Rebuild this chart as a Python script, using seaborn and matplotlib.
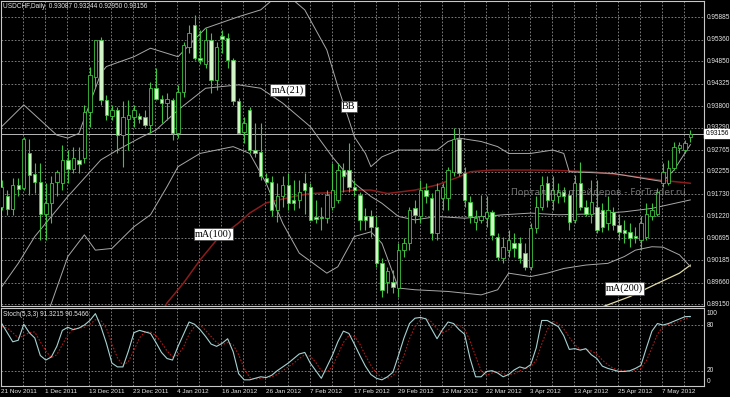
import matplotlib
matplotlib.use("Agg")
import matplotlib.pyplot as plt
import matplotlib.transforms as mtransforms
import seaborn as sns
import numpy as np

# ---------------- data ----------------
opens = [0.9144,0.9168,0.9138,0.9195,0.9187,0.9269,0.9221,0.9203,0.9128,0.9152,
         0.9201,0.9199,0.9254,0.9232,0.9254,0.9258,0.9367,0.9449,0.9535,0.9394,
         0.9357,0.9371,0.9312,0.9351,0.9355,0.9357,0.9354,0.9336,0.9422,0.9396,
         0.9388,0.9394,0.9316,0.9414,0.9520,0.9570,0.9492,0.9480,0.9535,0.9441,
         0.9545,0.9539,0.9488,0.9391,0.9320,0.9371,0.9277,0.9273,0.9211,0.9203,
         0.9136,0.9168,0.9195,0.9160,0.9160,0.9199,0.9191,0.9119,0.9119,0.9117,
         0.9144,0.9160,0.9230,0.9230,0.9191,0.9171,0.9121,0.9121,0.9097,0.9011,
         0.8968,0.8968,0.8952,0.9042,0.9058,0.9140,0.9121,0.9183,0.9164,0.9082,
         0.9164,0.9164,0.9226,0.9304,0.9222,0.9156,0.9109,0.9113,0.9117,0.9132,
         0.9074,0.9023,0.9042,0.9058,0.9058,0.9035,0.9003,0.9093,0.9144,0.9199,
         0.9160,0.9168,0.9179,0.9171,0.9113,0.9199,0.9144,0.9128,0.9144,0.9136,
         0.9105,0.9132,0.9101,0.9089,0.9085,0.9075,0.9066,0.9074,0.9121,0.9128,
         0.9199,0.9199,0.9234,0.9281,0.9277,0.93087]
highs = [0.9207,0.9183,0.9211,0.9211,0.9308,0.9304,0.9246,0.9246,0.9199,0.9215,
         0.9230,0.9289,0.9277,0.9285,0.9285,0.9383,0.9473,0.9535,0.9543,0.9406,
         0.9383,0.9379,0.9391,0.9394,0.9383,0.9363,0.9371,0.9437,0.9469,0.9406,
         0.9410,0.9398,0.9430,0.9531,0.9570,0.9594,0.9559,0.9563,0.9551,0.9531,
         0.9559,0.9551,0.9492,0.9398,0.9355,0.9379,0.9340,0.9340,0.9222,0.9215,
         0.9199,0.9215,0.9222,0.9207,0.9207,0.9222,0.9199,0.9160,0.9144,0.9183,
         0.9246,0.9246,0.9246,0.9293,0.9207,0.9179,0.9140,0.9136,0.9121,0.9023,
         0.9003,0.8995,0.9058,0.9070,0.9144,0.9160,0.9207,0.9199,0.9175,0.9199,
         0.9199,0.9238,0.9328,0.9328,0.9238,0.9168,0.9136,0.9171,0.9168,0.9136,
         0.9082,0.9074,0.9089,0.9082,0.9074,0.9058,0.9105,0.9168,0.9215,0.9215,
         0.9215,0.9199,0.9191,0.9183,0.9218,0.9250,0.9160,0.9207,0.9207,0.9152,
         0.9168,0.9144,0.9128,0.9113,0.9105,0.9097,0.9121,0.9152,0.9152,0.9187,
         0.9246,0.9254,0.9297,0.9297,0.9301,0.93244]
lows = [0.9136,0.9125,0.9125,0.9168,0.9183,0.9171,0.9175,0.9066,0.9066,0.9105,
        0.9168,0.9183,0.9199,0.9222,0.9222,0.9246,0.9332,0.9426,0.9383,0.9348,
        0.9348,0.9269,0.9238,0.9277,0.9332,0.9340,0.9332,0.9316,0.9394,0.9340,
        0.9348,0.9301,0.9305,0.9402,0.9504,0.9488,0.9480,0.9469,0.9410,0.9418,
        0.9504,0.9469,0.9383,0.9316,0.9293,0.9269,0.9261,0.9207,0.9199,0.9121,
        0.9109,0.9144,0.9136,0.9136,0.9140,0.9128,0.9113,0.9105,0.9089,0.9105,
        0.9136,0.9152,0.9179,0.9179,0.9168,0.9089,0.9089,0.9074,0.9003,0.8933,
        0.8941,0.8941,0.8933,0.9027,0.9042,0.9105,0.9105,0.9152,0.9066,0.9066,
        0.9136,0.9136,0.9215,0.9215,0.9144,0.9105,0.9089,0.9105,0.9097,0.9066,
        0.9019,0.9011,0.9027,0.9027,0.9011,0.8995,0.8995,0.9082,0.9136,0.9144,
        0.9136,0.9152,0.9156,0.9089,0.9105,0.9136,0.9121,0.9105,0.9082,0.9085,
        0.9089,0.9089,0.9066,0.9058,0.9050,0.9058,0.9042,0.9066,0.9113,0.9121,
        0.9191,0.9195,0.9230,0.9269,0.9269,0.92950]
closes = [0.9191,0.9138,0.9195,0.9186,0.9304,0.9218,0.9203,0.9128,0.9152,0.9199,
          0.9226,0.9254,0.9232,0.9258,0.9244,0.9367,0.9453,0.9535,0.9394,0.9359,
          0.9371,0.9312,0.9355,0.9359,0.9371,0.9351,0.9336,0.9422,0.9396,0.9388,
          0.9396,0.9316,0.9414,0.9524,0.9551,0.9492,0.9488,0.9535,0.9441,0.9520,
          0.9537,0.9488,0.9391,0.9316,0.9340,0.9277,0.9269,0.9215,0.9203,0.9136,
          0.9168,0.9195,0.9152,0.9152,0.9179,0.9183,0.9113,0.9114,0.9117,0.9171,
          0.9183,0.9230,0.9215,0.9191,0.9183,0.9113,0.9113,0.9097,0.9011,0.8949,
          0.8992,0.8956,0.9042,0.9058,0.9136,0.9125,0.9183,0.9168,0.9082,0.9183,
          0.9191,0.9230,0.9304,0.9222,0.9160,0.9121,0.9117,0.9121,0.9132,0.9078,
          0.9027,0.9050,0.9066,0.9046,0.9023,0.9003,0.9093,0.9144,0.9195,0.9160,
          0.9183,0.9179,0.9168,0.9109,0.9199,0.9144,0.9128,0.9156,0.9089,0.9097,
          0.9136,0.9101,0.9085,0.9082,0.9070,0.9070,0.9105,0.9128,0.9136,0.9179,
          0.9226,0.9234,0.9285,0.9289,0.9293,0.93156]

# Bollinger bands (20) and moving averages, read as (bar, price)
bb_up_x = [0, 4, 10, 12, 14, 18, 19, 24, 27, 30, 32, 37, 43, 47, 51, 55, 59, 61, 63, 64,
           66, 67, 69, 72, 79, 81, 83, 87, 90, 92, 96, 100, 102, 103, 111, 118, 120, 122, 125]
bb_up_y = [0.9332, 0.9383, 0.9312, 0.9305, 0.9316, 0.9457, 0.9473, 0.9496, 0.9516, 0.9504,
           0.9496, 0.9563, 0.9590, 0.9606, 0.9650, 0.9606, 0.9512, 0.9426, 0.9348, 0.9308,
           0.9269, 0.9238, 0.9261, 0.9277, 0.9277, 0.9297, 0.9305, 0.9297, 0.9285, 0.9269,
           0.9269, 0.9277, 0.9269, 0.9226, 0.9222, 0.9207, 0.9203, 0.9230, 0.9290]
ma21_x = [0, 3, 6, 12, 15, 18, 21, 25, 28, 32, 37, 43, 47, 51, 56, 60, 64, 67, 69, 72,
          75, 79, 84, 91, 96, 101, 107, 113, 118, 125]
ma21_y = [0.8956, 0.9011, 0.9074, 0.9168, 0.9211, 0.9254, 0.9277, 0.9305, 0.9324, 0.9371,
          0.9422, 0.9430, 0.9422, 0.9387, 0.9332, 0.9261, 0.9199, 0.9168, 0.9152, 0.9121,
          0.9113, 0.9121, 0.9117, 0.9125, 0.9129, 0.9125, 0.9127, 0.9132, 0.9140, 0.9160]
bb_lo_x = [5, 9, 12, 15, 17, 20, 24, 27, 30, 32, 36, 42, 45, 48, 51, 54, 59, 61, 64, 67,
           69, 72, 75, 81, 87, 90, 92, 96, 99, 102, 106, 110, 113, 115, 118, 120, 123, 125]
bb_lo_y = [0.8800, 0.8917, 0.9027, 0.9078, 0.9042, 0.9046, 0.9097, 0.9125, 0.9191, 0.9238,
           0.9269, 0.9285, 0.9269, 0.9199, 0.9105, 0.9035, 0.8988, 0.9003, 0.9074, 0.9085,
           0.9058, 0.8953, 0.8949, 0.8945, 0.8937, 0.8949, 0.8988, 0.8980, 0.8988, 0.8999,
           0.9007, 0.9011, 0.9027, 0.9042, 0.9050, 0.9049, 0.9031, 0.9003]
ma100_x = [29, 30, 33, 36, 39, 43, 45, 48, 53, 56, 60, 64, 67, 70, 75, 79, 83, 85, 89, 96,
           101, 107, 113, 119, 125]
ma100_y = [0.8895, 0.8918, 0.8965, 0.9019, 0.9066, 0.9106, 0.9129, 0.9153, 0.9168, 0.9175,
           0.9177, 0.9183, 0.9183, 0.9175, 0.9183, 0.9195, 0.9214, 0.9226, 0.9230, 0.9230,
           0.9229, 0.9226, 0.9218, 0.9207, 0.9199]
ma200_x = [104, 108, 114, 119, 123, 125]
ma200_y = [0.8885, 0.8904, 0.8933, 0.8964, 0.8988, 0.9007]

stoch_main = [82,70,58,60,81,70,63,40,34,38,52,73,77,74,76,80,86,95,78,56,
              30,25,25,46,70,73,71,69,57,44,36,34,52,68,84,81,74,65,55,52,
              56,62,45,16,8,8,10,12,11,14,20,25,30,36,42,44,30,20,10,25,
              40,58,72,69,55,40,26,15,10,8,12,18,40,63,82,89,90,88,75,62,
              74,84,82,74,68,36,12,12,19,20,17,12,15,21,25,23,28,50,86,86,
              82,78,66,48,49,47,49,41,36,26,23,21,19,19,20,23,27,50,72,82,
              80,82,85,88,91,91.32]
stoch_signal = [78,76,70,63,66,70,71,58,46,37,41,54,67,75,76,77,81,87,86,76,
                55,37,27,32,47,63,71,71,66,57,46,38,41,51,68,78,80,73,65,57,
                54,57,54,41,23,11,9,10,11,12,15,20,25,30,36,41,39,31,20,18,
                25,41,57,66,65,55,40,27,17,11,10,13,23,40,62,78,87,89,84,75,
                70,73,80,80,75,59,39,20,14,17,19,16,15,16,20,23,25,34,55,74,
                85,82,75,64,54,48,48,46,42,34,28,23,21,20,19,21,23,33,50,68,
                78,81,82,85,88,90.55]

price_ticks = [0.95885, 0.95360, 0.94850, 0.94325, 0.93800, 0.93290, 0.92765,
               0.92255, 0.91730, 0.91220, 0.90695, 0.90185, 0.89660, 0.89150]
price_tick_labels = ["0.95885", "0.95360", "0.94850", "0.94325", "0.93800", "0.93290", "0.92765",
                     "0.92255", "0.91730", "0.91220", "0.90695", "0.90185", "0.89660", "0.89150"]
date_labels = ["21 Nov 2011", "1 Dec 2011", "13 Dec 2011", "23 Dec 2011", "4 Jan 2012",
               "16 Jan 2012", "26 Jan 2012", "7 Feb 2012", "17 Feb 2012", "29 Feb 2012",
               "12 Mar 2012", "22 Mar 2012", "3 Apr 2012", "13 Apr 2012", "25 Apr 2012",
               "7 May 2012"]
date_label_bars = [0, 8, 16, 24, 32, 40, 48, 56, 64, 72, 80, 88, 96, 104, 112, 120]

# ---------------- style ----------------
sns.set_style("dark")
plt.rcParams["font.family"] = ["Liberation Sans", "DejaVu Sans"]

W, H = 730, 397
fig = plt.figure(figsize=(W / 100, H / 100), dpi=100, facecolor="black")

ax = fig.add_axes([1 / W, (H - 306) / H, 703 / W, 305 / H], facecolor="black")
axs = fig.add_axes([1 / W, (H - 386) / H, 703 / W, 78 / H], facecolor="black")

XMIN, XMAX = -0.13, 127.45
GREEN = "#3ec43e"
BEAR_FILL = "#d2f5c8"
GRID = "#8f8f8f"
TXT = "#e8e8e8"

n = len(closes)
idx = np.arange(n)
o = np.array(opens); c = np.array(closes); hi = np.array(highs); lo = np.array(lows)

# grid
vgrid = np.arange(3.87, XMAX, 4)
for a in (ax, axs):
    for g in vgrid:
        a.axvline(g, color=GRID, lw=0.6, ls=(0, (2, 2)), zorder=0)
for p in price_ticks:
    ax.axhline(p, color=GRID, lw=0.6, ls=(0, (2, 2)), zorder=0)
for p in (20, 80):
    axs.axhline(p, color=GRID, lw=0.6, ls=(0, (2, 2)), zorder=0)

# indicator lines
line_kw = dict(estimator=None, sort=False, legend=False)
sns.lineplot(x=ma100_x, y=ma100_y, ax=ax, color="#8c1c1c", lw=1.1, zorder=2, **line_kw)
sns.lineplot(x=ma200_x, y=ma200_y, ax=ax, color="#e2dcaa", lw=0.9, zorder=2, **line_kw)
for xs, ys in ((bb_up_x, bb_up_y), (ma21_x, ma21_y), (bb_lo_x, bb_lo_y)):
    sns.lineplot(x=xs, y=ys, ax=ax, color="#a8a8a8", lw=0.7, zorder=2, **line_kw)

# current price line
ax.axhline(closes[-1], color="#b8b8b8", lw=0.7, zorder=1)

# candles
ax.vlines(idx, lo, hi, color=GREEN, lw=0.8, zorder=3)
bull = c >= o
body_h = np.maximum(np.abs(c - o), 0.00006)
ax.bar(idx[bull], body_h[bull], bottom=np.minimum(o, c)[bull], width=0.62,
       color="black", edgecolor=GREEN, lw=0.6, zorder=4)
ax.bar(idx[~bull], body_h[~bull], bottom=np.minimum(o, c)[~bull], width=0.62,
       color=BEAR_FILL, edgecolor=GREEN, lw=0.6, zorder=4)

ax.set_xlim(XMIN, XMAX)
ax.set_ylim(0.89109, 0.96268)

# stochastic
sns.lineplot(x=idx, y=stoch_signal, ax=axs, color="#b01818", lw=0.8,
             linestyle=(0, (1.5, 1.5)), zorder=2, **line_kw)
sns.lineplot(x=idx, y=stoch_main, ax=axs, color="#a6d2d2", lw=0.8, zorder=3, **line_kw)
axs.set_xlim(XMIN, XMAX)
axs.set_ylim(-0.1, 102.4)

for a in (ax, axs):
    a.set_xticks([]); a.set_yticks([])
    a.set_xlabel(""); a.set_ylabel("")
    a.grid(False)
    for s in a.spines.values():
        s.set_color("#c8c8c8"); s.set_linewidth(0.8); s.set_visible(True)

# right axis labels
tr = mtransforms.blended_transform_factory(ax.transAxes, ax.transData)
for p, lab in zip(price_ticks, price_tick_labels):
    ax.text(1.004, p, lab, transform=tr, color=TXT, fontsize=4.7, va="center", ha="left")
ax.text(1.002, closes[-1], "0.93156", transform=tr, color="black", fontsize=4.7,
        va="center", ha="left", zorder=10, clip_on=False,
        bbox=dict(facecolor="white", edgecolor="white", boxstyle="square,pad=0.2"))

trs = mtransforms.blended_transform_factory(axs.transAxes, axs.transData)
for v, lab in ((95.8, "100"), (80, "80"), (20, "20"), (5.2, "0")):
    axs.text(1.004, v, lab, transform=trs, color=TXT, fontsize=4.7, va="center", ha="left")

# date labels
trd = mtransforms.blended_transform_factory(axs.transData, axs.transAxes)
for b, lab in zip(date_label_bars, date_labels):
    axs.text(b - 0.1, -0.075, lab, transform=trd, color=TXT, fontsize=4.6,
             va="center", ha="left", clip_on=False)

# titles
ax.text(0.003, 0.982, "USDCHF,Daily  0.93087 0.93244 0.92950 0.93156", transform=ax.transAxes,
        color=TXT, fontsize=4.7, va="center", ha="left")
axs.text(0.003, 0.92, "Stoch(5,3,3) 91.3215 90.5466", transform=axs.transAxes,
         color=TXT, fontsize=4.7, va="center", ha="left")

# watermark
ax.text(92.5, 0.91765, "Портал для трейдеров - ForTrader.ru", color="#9a9a9a", alpha=0.75,
        fontsize=6.6, family=["DejaVu Sans"], va="center", ha="left", zorder=6)

# annotation boxes
box = dict(facecolor="white", edgecolor="#404040", boxstyle="square,pad=0.12", lw=0.5)
for bx, py, lab in ((51.9, 0.94179, "mA(21)"), (63.0, 0.93787, "BB"),
                    (38.4, 0.90800, "mA(100)"), (113.0, 0.89520, "mA(200)")):
    ax.text(bx, py, lab, color="black", fontsize=7.3, family=["Liberation Serif"],
            va="center", ha="center", bbox=box, zorder=8)

fig.savefig("out.png", dpi=100, facecolor="black")
